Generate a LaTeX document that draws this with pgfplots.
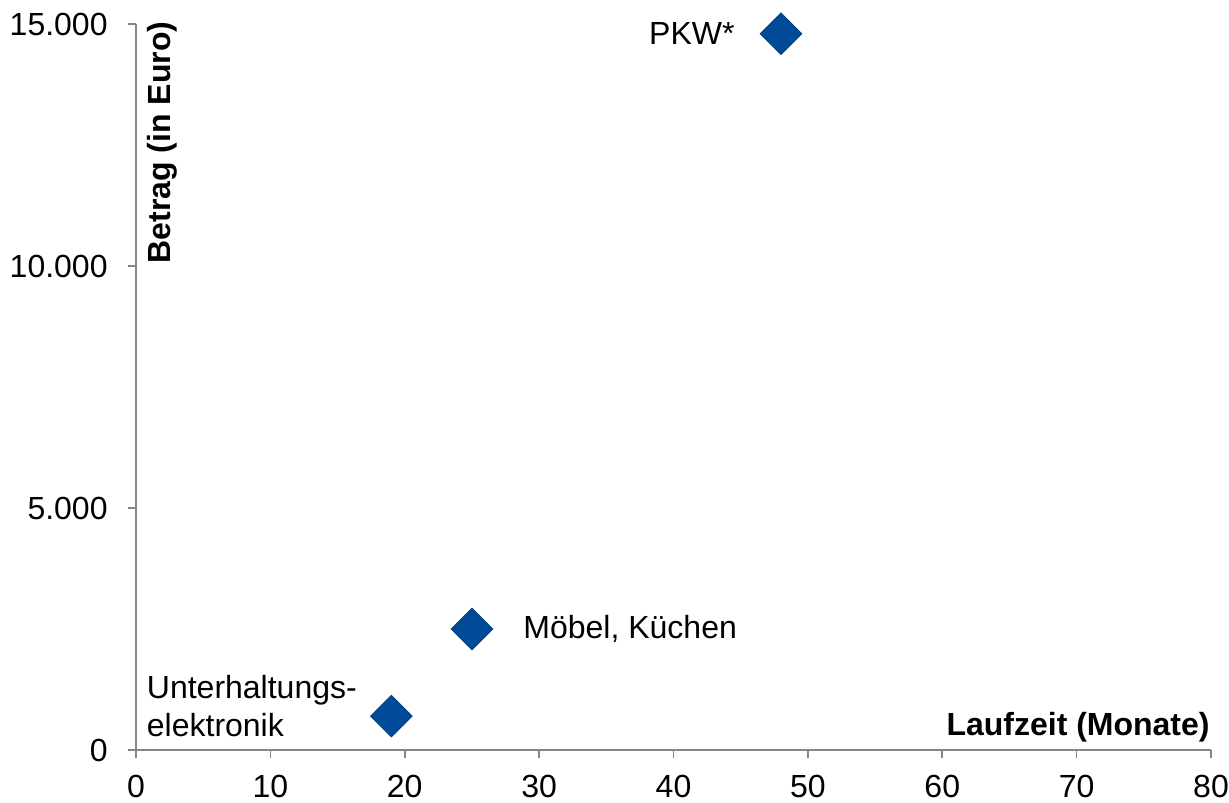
\documentclass[border=0pt]{standalone}
\usepackage{pgfplots}
\pgfplotsset{compat=1.18}
\usepackage{fontspec}
\setmainfont{Liberation Sans}
\definecolor{ptblue}{RGB}{0,74,152}
\definecolor{axgray}{RGB}{134,134,134}
\begin{document}
\begin{tikzpicture}
\begin{axis}[
  scale only axis,
  width=537.5pt, height=363pt,
  xmin=0, xmax=80, ymin=0, ymax=15000,
  axis x line*=bottom, axis y line*=left,
  axis line style={axgray, line width=0.8pt, -},
  xtick={0,10,...,80}, ytick={0,5000,10000,15000},
  tick align=outside, major tick length=4pt,
  tick style={axgray, line width=0.8pt},
  minor tick num=0,
  scaled y ticks=false,
  /pgf/number format/assume math mode=true,
  /pgf/number format/1000 sep={.},
  ticklabel style={font=\fontsize{16}{19}\selectfont, text=black},
  yticklabel style={anchor=east, inner sep=0pt, xshift=-10pt},
  xticklabel style={anchor=north, inner sep=0pt, yshift=-8.5pt},
  clip=false,
  ylabel={Betrag (in Euro)},
  ylabel style={at={(rel axis cs:0.0102,1.004)}, anchor=north east, rotate=0, inner sep=0pt, font=\fontsize{16}{19}\selectfont\bfseries},
  xlabel={Laufzeit (Monate)},
  xlabel style={at={(rel axis cs:1,0)}, anchor=south east, inner sep=0pt, xshift=-0.5pt, yshift=3.5pt, font=\fontsize{16}{19}\selectfont\bfseries},
  mark options={rotate=45, fill=ptblue, draw=ptblue!85!black, line width=0.5pt},
  mark size=7.3pt,
  nodes near coords,
  point meta=explicit symbolic,
  every node near coord/.append style={font=\fontsize{16}{19}\selectfont, text=black, inner sep=0pt},
]
\addplot[only marks, mark=square*, nodes near coords style={anchor=east, xshift=-23pt, yshift=0pt}]
  coordinates {(48,14800) [PKW*]};
\addplot[only marks, mark=square*, nodes near coords style={anchor=west, xshift=25.5pt}]
  coordinates {(25,2500) [{Möbel, Küchen}]};
\addplot[only marks, mark=square*, nodes near coords style={anchor=east, align=left, xshift=-17pt, yshift=5pt}]
  coordinates {(19,700) [{Unterhaltungs-\\elektronik}]};
\coordinate (O) at (rel axis cs:0,0);
\end{axis}
\pgfresetboundingbox
\path[use as bounding box] (O) ++(-68pt,-26pt) rectangle ++(614.5pt,401pt);
\end{tikzpicture}
\end{document}
